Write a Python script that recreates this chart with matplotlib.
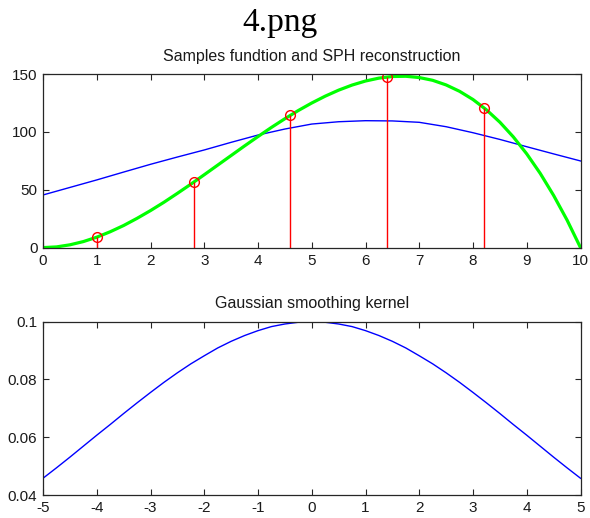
import numpy as np
import matplotlib
matplotlib.use('Agg')
import matplotlib.pyplot as plt

x_fun = [0, 0.25, 0.5, 0.75, 1, 1.25, 1.5, 1.75, 2, 2.25, 2.5, 2.75, 3, 3.25, 3.5, 3.75, 4,
         4.25, 4.5, 4.75, 5, 5.25, 5.5, 5.75, 6, 6.25, 6.5, 6.75, 7, 7.25, 7.5, 7.75, 8,
         8.25, 8.5, 8.75, 9, 9.25, 9.5, 9.75, 10]
y_fun = [0, 0.6, 2.4, 5.2, 9, 13.7, 19.1, 25.3, 32, 39.2, 46.9, 54.8, 63, 71.3, 79.6, 87.9, 96,
         103.9, 111.4, 118.5, 125, 130.9, 136.1, 140.5, 144, 146.5, 147.9, 148.1, 147, 144.6,
         140.6, 135.1, 128, 119.1, 108.4, 95.7, 81, 64.2, 45.1, 23.8, 0]

# SPH reconstruction (blue)
x_sph = [0, 0.5, 1, 1.5, 2, 2.5, 3, 3.5, 4, 4.5, 5, 5.5, 6, 6.5, 7, 7.5, 8, 8.5, 9, 9.5, 10]
y_sph = [45.5, 52, 58.5, 65.3, 72, 78.3, 84.4, 91, 97.3, 102.5, 106.8, 108.8, 109.7, 109.5,
         108.3, 104.5, 99.3, 93.5, 87.2, 81, 74.9]

# samples (red stems)
x_smp = [1, 2.8, 4.6, 6.4, 8.2]
y_smp = [9, 56.4, 114.3, 147.5, 121]

# gaussian kernel
x_ker = [-5, -4.75, -4.5, -4.25, -4, -3.75, -3.5, -3.25, -3, -2.75, -2.5, -2.25, -2, -1.75,
         -1.5, -1.25, -1, -0.75, -0.5, -0.25, 0, 0.25, 0.5, 0.75, 1, 1.25, 1.5, 1.75, 2,
         2.25, 2.5, 2.75, 3, 3.25, 3.5, 3.75, 4, 4.25, 4.5, 4.75, 5]
y_ker = [0.0458, 0.0494, 0.0531, 0.0569, 0.0607, 0.0644, 0.0682, 0.0719, 0.0755, 0.0790,
         0.0823, 0.0854, 0.0882, 0.0909, 0.0932, 0.0952, 0.0969, 0.0983, 0.0992, 0.0998, 0.1,
         0.0998, 0.0992, 0.0983, 0.0969, 0.0952, 0.0932, 0.0909, 0.0882, 0.0854, 0.0823,
         0.0790, 0.0755, 0.0719, 0.0682, 0.0644, 0.0607, 0.0569, 0.0531, 0.0494, 0.0458]

plt.rcParams['font.family'] = ['Liberation Sans', 'DejaVu Sans']
plt.rcParams['axes.unicode_minus'] = False

fig = plt.figure(figsize=(5.9, 5.18), dpi=100)
fig.text(0.475, 0.940, '4.png', ha='center', va='baseline', fontsize=24,
         family=['Liberation Serif', 'DejaVu Serif'])

ax1 = fig.add_axes([0.0729, 0.522, 0.911, 0.335])
ax2 = fig.add_axes([0.0729, 0.0444, 0.911, 0.3346])


def matlab_style(ax):
    for s in ax.spines.values():
        s.set_color('#262626')
        s.set_linewidth(0.9)
    ax.tick_params(direction='in', top=True, right=True, length=4, width=0.8,
                   color='#262626', labelsize=11, labelcolor='#1a1a1a')
    ax.tick_params(axis='x', pad=4.5)
    ax.tick_params(axis='y', pad=4)


# top panel
ax1.plot(x_sph, y_sph, color='blue', lw=1.0)
ax1.plot(x_fun, y_fun, color=(0, 1, 0), lw=2.3)
ml, sl, bl = ax1.stem(x_smp, y_smp, basefmt=' ')
plt.setp(sl, color='red', lw=1.0)
plt.setp(ml, marker='o', markerfacecolor='none', markeredgecolor='red', markersize=7, mew=1.0)
ax1.set_xlim(0, 10)
ax1.set_ylim(0, 150)
ax1.set_xticks(range(0, 11))
ax1.set_yticks([0, 50, 100, 150])
ax1.set_title('Samples fundtion and SPH reconstruction', fontsize=11.5, pad=9.5, color='#1a1a1a')
matlab_style(ax1)

# bottom panel
ax2.plot(x_ker, y_ker, color='blue', lw=1.0)
ax2.set_xlim(-5, 5)
ax2.set_ylim(0.04, 0.1)
ax2.set_xticks(range(-5, 6))
ax2.set_yticks([0.04, 0.06, 0.08, 0.1])
ax2.set_yticklabels(['0.04', '0.06', '0.08', '0.1'])
ax2.set_title('Gaussian smoothing kernel', fontsize=11.5, pad=9.5, color='#1a1a1a')
matlab_style(ax2)

plt.savefig('out.png', dpi=100)
